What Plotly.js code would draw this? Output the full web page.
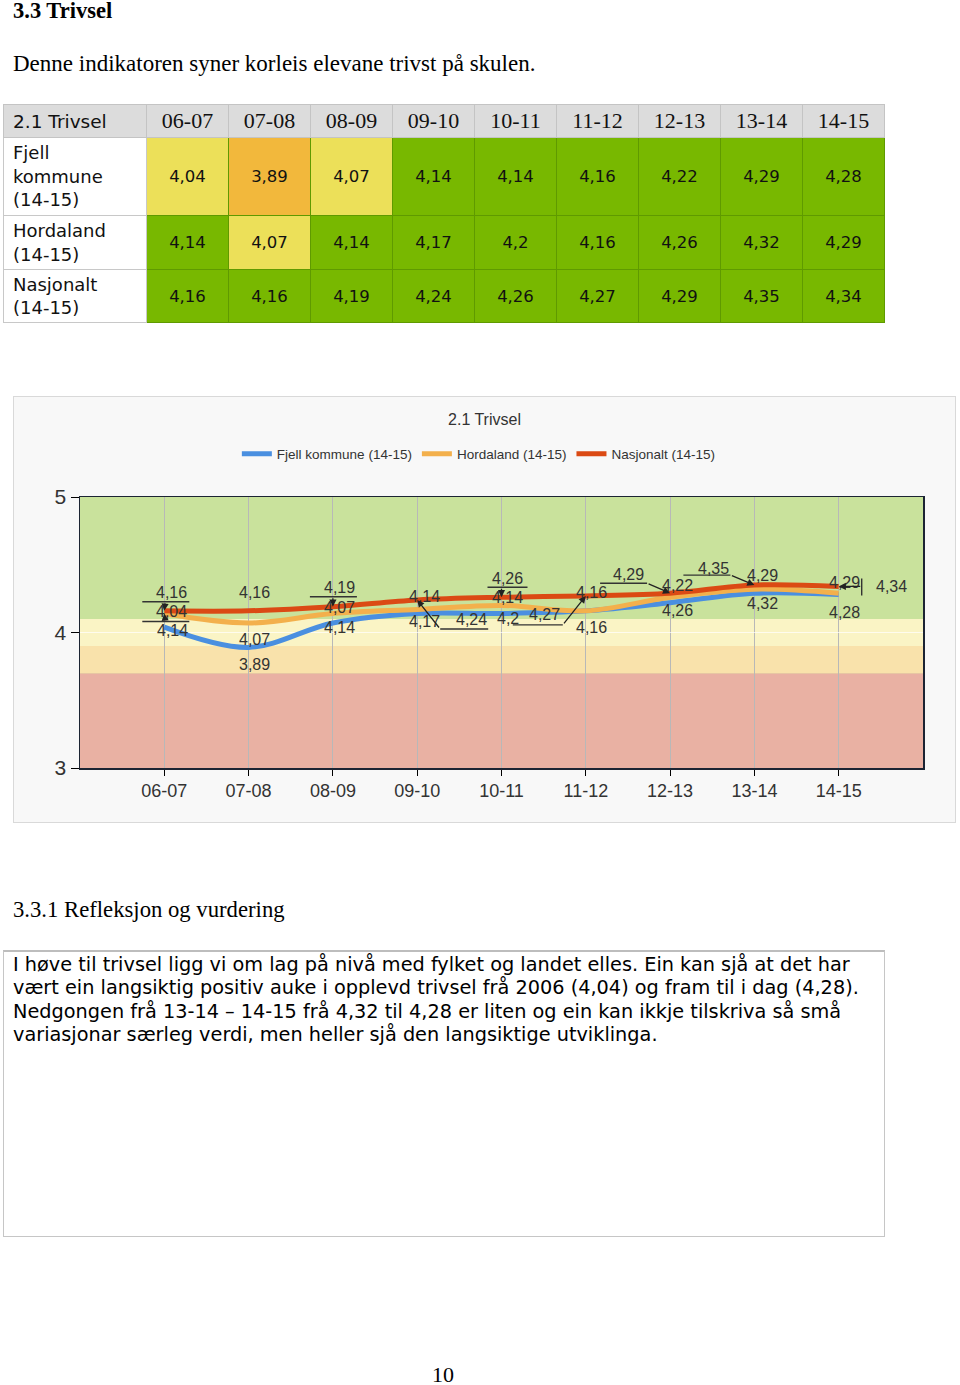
<!DOCTYPE html>
<html><head><meta charset="utf-8">
<script src="https://cdn.plot.ly/plotly-3.0.1.min.js"></script>
<style>
html,body{margin:0;padding:0;background:#fff;}
body{width:960px;height:1385px;position:relative;overflow:hidden;}
.abs{position:absolute;white-space:nowrap;}
.serif{font-family:"Liberation Serif","Times New Roman",serif;color:#000;}
#tbl{position:absolute;left:3px;top:104px;width:882px;border-collapse:collapse;table-layout:fixed;font-family:"DejaVu Sans",Verdana,sans-serif;}
#tbl th{background:#dcdcdc;font-weight:normal;border:1px solid #c4c4c4;padding:0;height:32px;font-family:"Liberation Serif","Times New Roman",serif;font-size:22px;color:#111;text-align:center;}
#tbl th.h0{font-family:"DejaVu Sans",Verdana,sans-serif;font-size:18.5px;text-align:left;padding-left:9px;}
#tbl td{border:1px solid #c8c8c8;padding:0;text-align:center;font-size:16.5px;color:#111;}
#tbl td.lab{text-align:left;padding:0 14px 0 9px;font-size:18px;line-height:23.5px;background:#fff;white-space:normal;}
#tbl td.val{border-color:#5f9a00;}
#box{position:absolute;left:3px;top:950px;border:1px solid #c6c6c6;border-top:2px solid #bdbdbd;font-family:"DejaVu Sans",Verdana,sans-serif;font-size:19.3px;line-height:23.4px;color:#000;padding:0 0 0 9px;box-sizing:border-box;width:882px;height:287px;}
</style></head><body>
<div class="abs serif" style="left:13px;top:0px;font-size:22.5px;font-weight:bold;line-height:22px;">3.3 Trivsel</div>
<div class="abs serif" style="left:13px;top:53px;font-size:23px;line-height:22px;">Denne indikatoren syner korleis elevane trivst på skulen.</div>
<table id="tbl"></table>
<div id="chart" style="position:absolute;left:13px;top:396px;width:943px;height:427px;border:1px solid #d9d9d9;box-sizing:border-box;"></div>
<div class="abs serif" style="left:13px;top:899px;font-size:22.7px;line-height:22px;">3.3.1 Refleksjon og vurdering</div>
<div id="box"><div style="white-space:nowrap;padding-top:1px;">I høve til trivsel ligg vi om lag på nivå med fylket og landet elles. Ein kan sjå at det har<br>vært ein langsiktig positiv auke i opplevd trivsel frå 2006 (4,04) og fram til i dag (4,28).<br>Nedgongen frå 13-14 – 14-15 frå 4,32 til 4,28 er liten og ein kan ikkje tilskriva så små<br>variasjonar særleg verdi, men heller sjå den langsiktige utviklinga.</div></div>
<div class="abs serif" style="left:432px;top:1364px;font-size:22px;line-height:22px;">10</div>
<script>
// ---------- data ----------
const chartTitle = '2.1 Trivsel';
const categories = ['06-07','07-08','08-09','09-10','10-11','11-12','12-13','13-14','14-15'];
const seriesNames = ['Fjell kommune (14-15)','Hordaland (14-15)','Nasjonalt (14-15)'];
const fjell     = [4.04, 3.89, 4.07, 4.14, 4.14, 4.16, 4.22, 4.29, 4.28];
const hordaland = [4.14, 4.07, 4.14, 4.17, 4.2,  4.16, 4.26, 4.32, 4.29];
const nasjonalt = [4.16, 4.16, 4.19, 4.24, 4.26, 4.27, 4.29, 4.35, 4.34];
const bandEdges = [3, 3.7, 3.9, 4.1, 5];
const yTicks = [3, 4, 5];

// ---------- styles ----------
const seriesColors = ['#4a8fe0','#f3b04c','#db4a14'];
const bandColors = ['#e9b1a3','#f9e2ab','#faf4c5','#c9e29c'];
const cellColors = ['#e8603c','#f2b83c','#ece059','#78b800'];
const series = [fjell, hordaland, nasjonalt];
const fmt = v => String(v).replace('.', ',');
function bandIndex(v){ for(let k=bandEdges.length-2;k>=0;k--){ if(v>=bandEdges[k]) return k; } return 0; }

// ---------- table ----------
(function(){
  const rowH = [78, 54, 53];
  let h = '<colgroup><col style="width:143px">' + categories.map(()=>'<col>').join('') + '</colgroup>';
  h += '<tr><th class="h0">' + chartTitle + '</th>' + categories.map(c=>'<th>'+c+'</th>').join('') + '</tr>';
  series.forEach((s, si) => {
    h += '<tr style="height:'+rowH[si]+'px"><td class="lab">' + seriesNames[si] + '</td>' +
      s.map(v => '<td class="val" style="background:'+cellColors[bandIndex(v)]+'">'+fmt(v)+'</td>').join('') + '</tr>';
  });
  document.getElementById('tbl').innerHTML = h;
})();

// ---------- chart ----------
const traces = series.map((s, si) => ({
  type:'scatter', mode:'lines', x:categories, y:s, name:seriesNames[si],
  line:{color:seriesColors[si], width:5, shape:'spline', smoothing:1},
  hoverinfo:'skip'
}));

const shapes = [];
for (let k=0;k<bandColors.length;k++){
  shapes.push({type:'rect', xref:'paper', yref:'y', x0:0, x1:1, y0:bandEdges[k], y1:bandEdges[k+1],
    fillcolor:bandColors[k], line:{width:0}, layer:'below'});
}

// label placement (pixel offsets from each data point): s = series index (0 F, 1 H, 2 N)
const specs = [
  {s:2,i:0,dx:7,dy:-18,hl:{y:-9,x0:-22,x1:25},ar:{x:1,y:-9}},
  {s:0,i:0,dx:7,dy:-16},
  {s:1,i:0,dx:8,dy:16.5,hl:{y:8,x0:-22,x1:25},ar:{x:1,y:8}},
  {s:2,i:1,dx:6,dy:-18},{s:1,i:1,dx:6,dy:16},{s:0,i:1,dx:6,dy:17},
  {s:2,i:2,dx:7,dy:-19,hl:{y:-10,x0:-23,x1:24},ar:{x:0,y:-10}},
  {s:0,i:2,dx:7,dy:-16},{s:1,i:2,dx:7,dy:13.5},
  {s:0,i:3,dx:7,dy:-17.5},{s:1,i:3,dx:7,dy:12.5},
  {s:2,i:3,dx:54,dy:20,hl:{y:29,x0:23,x1:71},ar:{x:23,y:29}},
  {s:2,i:4,dx:6,dy:-19,hl:{y:-10,x0:-14,x1:26},ar:{x:0,y:-10}},
  {s:0,i:4,dx:6,dy:-16.5},{s:1,i:4,dx:6,dy:13.5},
  {s:2,i:5,dx:-41,dy:19,hl:{y:29,x0:-73,x1:-23},ar:{x:-23,y:29}},
  {s:0,i:5,dx:6,dy:-18},{s:1,i:5,dx:6,dy:17},
  {s:2,i:6,dx:-42,dy:-19,hl:{y:-10,x0:-70,x1:-23},ar:{x:-23,y:-10}},
  {s:0,i:6,dx:7,dy:-17},{s:1,i:6,dx:7,dy:13},
  {s:2,i:7,dx:-41,dy:-17,hl:{y:-10,x0:-71,x1:-24},ar:{x:-24,y:-10}},
  {s:0,i:7,dx:8,dy:-18},{s:1,i:7,dx:8,dy:14},
  {s:1,i:8,dx:6,dy:-11},
  {s:2,i:8,dx:53,dy:0.5,vb:{x:23,y0:-8,y1:9},ar:{x:23,y:0}},
  {s:0,i:8,dx:6,dy:18}
];
const annotations = [];
const labelFont = {family:'Liberation Sans, Arial, sans-serif', size:16, color:'#333'};
specs.forEach(sp => {
  const v = series[sp.s][sp.i];
  annotations.push({x:sp.i, y:v, xref:'x', yref:'y', text:fmt(v), showarrow:false,
    xshift:sp.dx, yshift:-sp.dy, xanchor:'center', yanchor:'middle', font:labelFont});
  if (sp.ar) {
    annotations.push({x:sp.i, y:v, xref:'x', yref:'y', text:'', showarrow:true, axref:'pixel', ayref:'pixel',
      ax:sp.ar.x, ay:sp.ar.y, arrowhead:2, arrowsize:1.1, arrowwidth:1.3, arrowcolor:'#222', standoff:0});
  }
  const lineStyle = {color:'#333', width:1.4};
  if (sp.hl) shapes.push({type:'line', xref:'x', yref:'y', xsizemode:'pixel', ysizemode:'pixel',
    xanchor:sp.i, yanchor:v, x0:sp.hl.x0, x1:sp.hl.x1, y0:-sp.hl.y, y1:-sp.hl.y, line:lineStyle});
  if (sp.vb) shapes.push({type:'line', xref:'x', yref:'y', xsizemode:'pixel', ysizemode:'pixel',
    xanchor:sp.i, yanchor:v, x0:sp.vb.x, x1:sp.vb.x, y0:-sp.vb.y0, y1:-sp.vb.y1, line:lineStyle});
});

const layout = {
  width:941, height:425,
  margin:{l:66, r:32, t:100, b:54},
  paper_bgcolor:'#f8f8f8', plot_bgcolor:'#c9e29c',
  font:{family:'Liberation Sans, Arial, sans-serif', color:'#333'},
  title:{text:chartTitle, font:{size:16, color:'#333'}, x:0.5, xanchor:'center', xref:'container',
         y:1-22/425, yanchor:'middle', yref:'container'},
  showlegend:true,
  legend:{orientation:'h', x:0.494, xanchor:'center', xref:'container', y:1-57/425, yanchor:'middle', yref:'container',
          font:{size:13.5, color:'#333'}, bgcolor:'rgba(0,0,0,0)', traceorder:'normal', itemwidth:30},
  xaxis:{type:'category', range:[-1,9], showgrid:true, gridcolor:'#b8b8b8', gridwidth:1,
         ticks:'outside', ticklen:6, tickcolor:'#000', showline:true, linecolor:'#1c2433', linewidth:1.5, mirror:true,
         tickfont:{family:'Liberation Sans Narrow, Arial Narrow, Liberation Sans, sans-serif', size:18, color:'#333'},
         zeroline:false, fixedrange:true},
  yaxis:{range:[3,5], tickvals:yTicks, ticktext:yTicks.map(String), showgrid:true, gridcolor:'rgba(255,255,255,0.7)',
         ticks:'outside', ticklen:8, tickcolor:'#000', showline:true, linecolor:'#1c2433', linewidth:1.5, mirror:true,
         tickfont:{family:'Liberation Sans Narrow, Arial Narrow, Liberation Sans, sans-serif', size:21, color:'#333'},
         zeroline:false, fixedrange:true},
  shapes:shapes,
  annotations:annotations
};
Plotly.newPlot('chart', traces, layout, {displayModeBar:false, staticPlot:true});
</script>
</body></html>
